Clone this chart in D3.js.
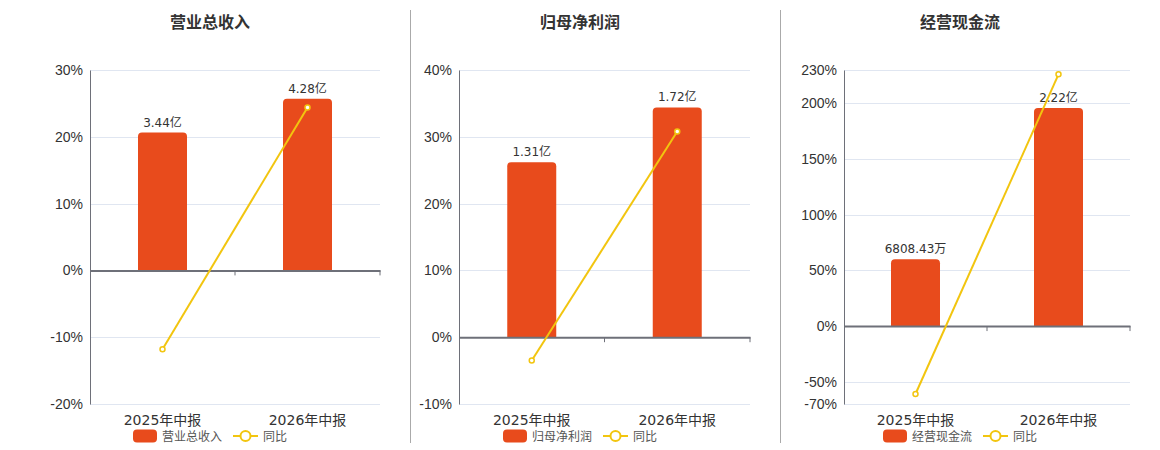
<!doctype html>
<html>
<head>
<meta charset="utf-8">
<title>营业总收入 / 归母净利润 / 经营现金流</title>
<script src="https://cdnjs.cloudflare.com/ajax/libs/d3/7.8.5/d3.min.js"></script>
<style>
  body { margin: 0; background: #fff; }
  svg { display: block; font-family: "DejaVu Sans", "Noto Sans CJK SC", sans-serif; }
</style>
</head>
<body>
<svg id="chart" width="1160" height="450"></svg>
<script>
// chart data
const categories = ['2025年中报', '2026年中报'];
const titles = ['营业总收入', '归母净利润', '经营现金流'];
const barValues = [[3.44, 4.28], [1.31, 1.72], [0.680843, 2.22]];
const barLabels = [['3.44亿', '4.28亿'], ['1.31亿', '1.72亿'], ['6808.43万', '2.22亿']];
const yoyValues = [[-11.8, 24.4], [-3.5, 30.8], [-61.0, 226.1]];
const yTicks = [[-20, -10, 0, 10, 20, 30], [-10, 0, 10, 20, 30, 40], [-70, -50, 0, 50, 100, 150, 200, 230]];
const legendLabels = ['营业总收入', '归母净利润', '经营现金流'];

// layout
const panels = [
  { left: 90, right: 380, cx: 210, barMax: 5 },
  { left: 459, right: 750, cx: 580, barMax: 2 },
  { left: 844, right: 1130, cx: 960, barMax: 2.607 }
];
const plotTop = 70, plotBottom = 404;
const barColor = '#e84b1c', lineColor = '#f2c50f';

const svg = d3.select('#chart');

// separators
[410.5, 780.5].forEach(x => {
  svg.append('line').attr('x1', x).attr('x2', x).attr('y1', 10).attr('y2', 443)
    .attr('stroke', '#aaa').attr('stroke-width', 1);
});

panels.forEach((p, i) => {
  const g = svg.append('g');
  const ticks = yTicks[i];
  const y = d3.scaleLinear().domain([ticks[0], ticks[ticks.length - 1]]).range([plotBottom, plotTop]);
  const x = d3.scaleBand().domain(categories).range([p.left, p.right]);
  const yBar = d3.scaleLinear().domain([0, p.barMax]).range([y(0), plotTop]);

  // title
  g.append('text').attr('x', p.cx).attr('y', 28).attr('text-anchor', 'middle')
    .style('font-size', '16px').style('font-weight', 'bold').attr('fill', '#333')
    .text(titles[i]);

  // grid
  g.selectAll('.grid').data(ticks).join('line')
    .attr('x1', p.left).attr('x2', p.right)
    .attr('y1', d => Math.round(y(d)) + 0.5).attr('y2', d => Math.round(y(d)) + 0.5)
    .attr('stroke', '#e0e6f1');

  // y axis
  const yAxis = g.append('g').attr('transform', `translate(${p.left},0)`)
    .call(d3.axisLeft(y).tickValues(ticks).tickSize(0).tickPadding(7).tickFormat(d => d + '%'));
  yAxis.select('.domain').attr('stroke', '#6e7079');
  yAxis.selectAll('text').style('font-size', '14px').attr('fill', '#333');

  // bars
  const bw = 49;
  g.selectAll('.bar').data(barValues[i]).join('path')
    .attr('fill', barColor)
    .attr('d', (d, j) => {
      const x0 = x(categories[j]) + x.bandwidth() / 2 - bw / 2;
      const y0 = yBar(d), yb = y(0), r = 4;
      return `M${x0},${yb}V${y0 + r}Q${x0},${y0} ${x0 + r},${y0}H${x0 + bw - r}Q${x0 + bw},${y0} ${x0 + bw},${y0 + r}V${yb}Z`;
    });

  // value labels
  g.selectAll('.vl').data(barValues[i]).join('text')
    .attr('x', (d, j) => x(categories[j]) + x.bandwidth() / 2)
    .attr('y', d => yBar(d) - 6)
    .attr('text-anchor', 'middle').style('font-size', '12px').attr('fill', '#333')
    .text((d, j) => barLabels[i][j]);

  // x axis at zero
  const xAxis = g.append('g').attr('transform', `translate(0,${y(0)})`)
    .call(d3.axisBottom(x).tickSize(0).tickFormat(''));
  xAxis.select('.domain').attr('stroke', '#6e7079').attr('stroke-width', 2);
  [p.left + x.bandwidth(), p.right].forEach(tx => {
    g.append('line').attr('x1', tx).attr('x2', tx).attr('y1', y(0)).attr('y2', y(0) + 5)
      .attr('stroke', '#6e7079');
  });

  // category labels
  g.selectAll('.cl').data(categories).join('text')
    .attr('x', d => x(d) + x.bandwidth() / 2).attr('y', 425)
    .attr('text-anchor', 'middle').style('font-size', '14px').attr('fill', '#333')
    .text(d => d);

  // yoy line
  const pts = yoyValues[i].map((v, j) => [x(categories[j]) + x.bandwidth() / 2, y(v)]);
  g.append('path').attr('d', d3.line()(pts)).attr('fill', 'none')
    .attr('stroke', lineColor).attr('stroke-width', 2);
  g.selectAll('.pt').data(pts).join('circle')
    .attr('cx', d => d[0]).attr('cy', d => d[1]).attr('r', 2.5)
    .attr('fill', '#fff').attr('stroke', lineColor).attr('stroke-width', 1.5);

  // legend
  const lg = g.append('g').attr('transform', `translate(${p.cx - 77},436)`);
  lg.append('rect').attr('x', 0).attr('y', -6.5).attr('width', 24).attr('height', 13).attr('rx', 4)
    .attr('fill', barColor);
  lg.append('text').attr('x', 29).attr('y', 4.5).style('font-size', '12px').attr('fill', '#555')
    .text(legendLabels[i]);
  lg.append('line').attr('x1', 100).attr('x2', 125).attr('y1', 0).attr('y2', 0)
    .attr('stroke', lineColor).attr('stroke-width', 2);
  lg.append('circle').attr('cx', 112.5).attr('cy', 0).attr('r', 5)
    .attr('fill', '#fff').attr('stroke', lineColor).attr('stroke-width', 2);
  lg.append('text').attr('x', 130).attr('y', 4.5).style('font-size', '12px').attr('fill', '#555')
    .text('同比');
});
</script>
</body>
</html>
